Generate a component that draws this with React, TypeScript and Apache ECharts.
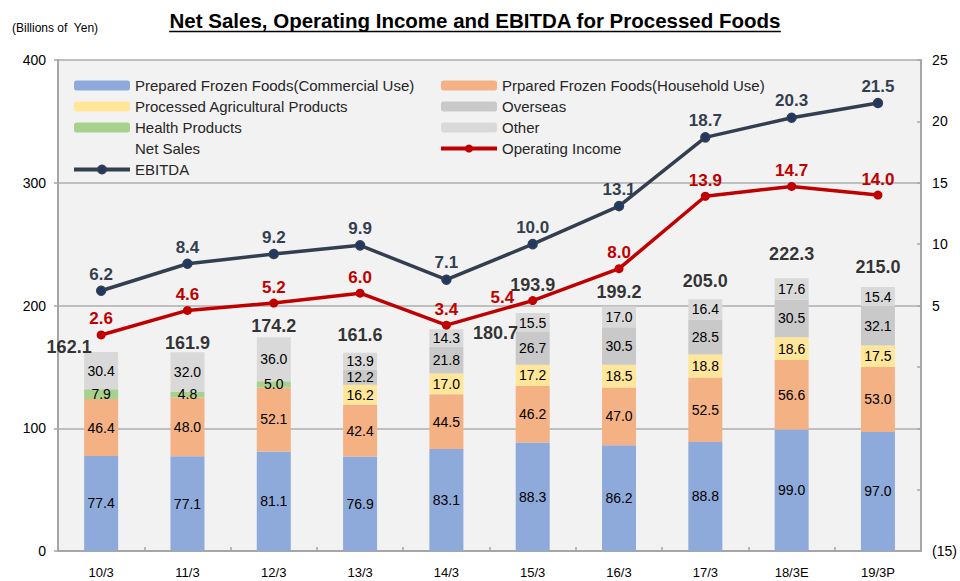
import React, { useEffect, useRef } from "react";
import * as echarts from "echarts";

const categories = ["10/3", "11/3", "12/3", "13/3", "14/3", "15/3", "16/3", "17/3", "18/3E", "19/3P"];
const commercial = [77.4, 77.1, 81.1, 76.9, 83.1, 88.3, 86.2, 88.8, 99.0, 97.0];
const household = [46.4, 48.0, 52.1, 42.4, 44.5, 46.2, 47.0, 52.5, 56.6, 53.0];
const agricultural = [null, null, null, 16.2, 17.0, 17.2, 18.5, 18.8, 18.6, 17.5];
const health = [7.9, 4.8, 5.0, null, null, null, null, null, null, null];
const overseas = [null, null, null, 12.2, 21.8, 26.7, 30.5, 28.5, 30.5, 32.1];
const other = [30.4, 32.0, 36.0, 13.9, 14.3, 15.5, 17.0, 16.4, 17.6, 15.4];
const netSales = [162.1, 161.9, 174.2, 161.6, 180.7, 193.9, 199.2, 205.0, 222.3, 215.0];
const operatingIncome = [2.6, 4.6, 5.2, 6.0, 3.4, 5.4, 8.0, 13.9, 14.7, 14.0];
const ebitda = [6.2, 8.4, 9.2, 9.9, 7.1, 10.0, 13.1, 18.7, 20.3, 21.5];
const leftTicks = { min: 0, max: 400, interval: 100 };
const rightTicks = { min: -15, max: 25, interval: 5 };

const N_COMM = "Prepared Frozen Foods(Commercial Use)";
const N_HOUSE = "Prpared Frozen Foods(Household Use)";
const N_AGRI = "Processed Agricultural Products";
const N_HEALTH = "Health Products";
const N_OVER = "Overseas";
const N_OTHER = "Other";
const N_NET = "Net Sales";
const N_OP = "Operating Income";
const N_EBITDA = "EBITDA";

const TITLE = "Net Sales, Operating Income and EBITDA for Processed Foods";
const FONT = "Liberation Sans";

// label placement styling (not data)
const netLabelDistance = [0, 0, 2, 8, 0, 18, 5, 9, 15, 11];

export default function App() {
  const ref = useRef<HTMLDivElement>(null);
  useEffect(() => {
    if (!ref.current) return;
    const chart = echarts.init(ref.current, null, { renderer: "svg" });

    const titleFont = `bold 20.5px ${FONT}`;
    let titleW = 609;
    try {
      const c = document.createElement("canvas").getContext("2d");
      if (c) {
        c.font = titleFont;
        titleW = c.measureText(TITLE).width;
      }
    } catch (e) {}
    const titleCx = 475;

    const barLabel = {
      show: true,
      position: "inside" as const,
      fontFamily: FONT,
      fontSize: 14,
      color: "#000",
      formatter: (p: any) => (p.value == null ? "" : Number(p.value).toFixed(1)),
    };
    const bar = (name: string, data: (number | null)[], color: string) => ({
      name,
      type: "bar",
      stack: "sales",
      barWidth: 34,
      data,
      itemStyle: { color },
      label: barLabel,
      z: 2,
    });

    const lineLabel = (color: string) => ({
      show: true,
      position: "top" as const,
      distance: 3,
      fontFamily: FONT,
      fontSize: 17,
      fontWeight: "bold" as const,
      color,
      formatter: (p: any) => Number(p.value).toFixed(1),
    });

    const netData = netSales.map((v, i) => {
      if (i === 0) return { value: v, label: { position: "left", distance: 9, offset: [0, -5] } };
      if (i === 4) return { value: v, label: { position: "right", distance: 26, offset: [0, 4] } };
      return { value: v, label: { distance: netLabelDistance[i] } };
    });

    const opData = operatingIncome.map((v, i) =>
      i === 5 ? { value: v, label: { position: "left", distance: 14, offset: [0, -3] } } : v
    );

    const legendCommon = {
      orient: "vertical" as const,
      top: 73,
      itemWidth: 56,
      itemHeight: 10,
      itemGap: 6,
      selectedMode: false,
      lineStyle: { width: 4 },
      textStyle: { fontFamily: FONT, fontSize: 15, color: "#262626" },
    };

    chart.setOption({
      animation: false,
      textStyle: { fontFamily: FONT },
      grid: {
        left: 58,
        right: 36,
        top: 60,
        bottom: 30,
        show: true,
        backgroundColor: "#f2f2f2",
        borderWidth: 0,
      },
      legend: [
        {
          ...legendCommon,
          left: 67,
          data: [
            N_COMM,
            N_AGRI,
            N_HEALTH,
            { name: N_NET, icon: "rect", itemStyle: { color: "rgba(0,0,0,0)", borderWidth: 0 } },
            N_EBITDA,
          ],
        },
        {
          ...legendCommon,
          left: 434,
          data: [N_HOUSE, N_OVER, N_OTHER, N_OP],
        },
      ],
      graphic: [
        {
          type: "text",
          left: 12,
          top: 22,
          style: { text: "(Billions of  Yen)", fontFamily: FONT, fontSize: 12, fill: "#000" },
        },
        {
          type: "text",
          x: titleCx,
          y: 20,
          style: {
            text: TITLE,
            font: titleFont,
            fill: "#000",
            align: "center",
            verticalAlign: "middle",
          },
        },
        {
          type: "line",
          shape: { x1: titleCx - titleW / 2, y1: 31.5, x2: titleCx + titleW / 2, y2: 31.5 },
          style: { stroke: "#000", lineWidth: 1.5 },
        },
      ],
      xAxis: {
        type: "category",
        data: categories,
        axisLine: { lineStyle: { color: "#a6a6a6", width: 2 } },
        axisTick: { show: true, inside: true, length: 4, lineStyle: { color: "#a6a6a6", width: 1.5 } },
        axisLabel: { fontFamily: FONT, fontSize: 13, color: "#000", margin: 15 },
      },
      yAxis: [
        {
          type: "value",
          ...leftTicks,
          axisLine: { show: true, lineStyle: { color: "#a6a6a6", width: 2 } },
          axisTick: { show: true, length: 4, lineStyle: { color: "#a6a6a6", width: 1.5 } },
          splitLine: { show: true, lineStyle: { color: "#bfbfbf", width: 2 } },
          axisLabel: { fontFamily: FONT, fontSize: 14, color: "#000", margin: 12 },
        },
        {
          type: "value",
          ...rightTicks,
          position: "right",
          axisLine: { show: true, lineStyle: { color: "#a6a6a6", width: 2 } },
          axisTick: { show: true, inside: true, length: 4, lineStyle: { color: "#a6a6a6", width: 1.5 } },
          splitLine: { show: false },
          axisLabel: {
            fontFamily: FONT,
            fontSize: 14,
            color: "#000",
            margin: 11,
            formatter: (v: number) => (v === -15 ? "(15)" : v > 0 ? String(v) : ""),
          },
        },
      ],
      series: [
        bar(N_COMM, commercial, "#8eaadb"),
        bar(N_HOUSE, household, "#f4b183"),
        bar(N_AGRI, agricultural, "#ffe699"),
        bar(N_HEALTH, health, "#a9d18e"),
        bar(N_OVER, overseas, "#c9c9c9"),
        bar(N_OTHER, other, "#d9d9d9"),
        {
          name: N_NET,
          type: "scatter",
          data: netData,
          symbolSize: 1,
          itemStyle: { color: "rgba(0,0,0,0)" },
          label: {
            show: true,
            position: "top",
            fontFamily: FONT,
            fontSize: 18,
            fontWeight: "bold",
            color: "#000",
            formatter: (p: any) => Number(p.value).toFixed(1),
          },
          z: 6,
        },
        {
          name: N_OP,
          type: "line",
          yAxisIndex: 1,
          data: opData,
          symbol: "circle",
          symbolSize: 9,
          lineStyle: { color: "#c00000", width: 3.5 },
          itemStyle: { color: "#c00000" },
          label: lineLabel("#c00000"),
          z: 4,
        },
        {
          name: N_EBITDA,
          type: "line",
          yAxisIndex: 1,
          data: ebitda,
          symbol: "circle",
          symbolSize: 9,
          lineStyle: { color: "#333f50", width: 3.5 },
          itemStyle: { color: "#1f3864", borderColor: "#333f50", borderWidth: 1.5 },
          label: lineLabel("#333f50"),
          z: 4,
        },
      ],
    });

    return () => chart.dispose();
  }, []);

  return (
    <div
      ref={ref}
      style={{ position: "absolute", left: 0, top: 0, width: 960, height: 581 }}
    />
  );
}
